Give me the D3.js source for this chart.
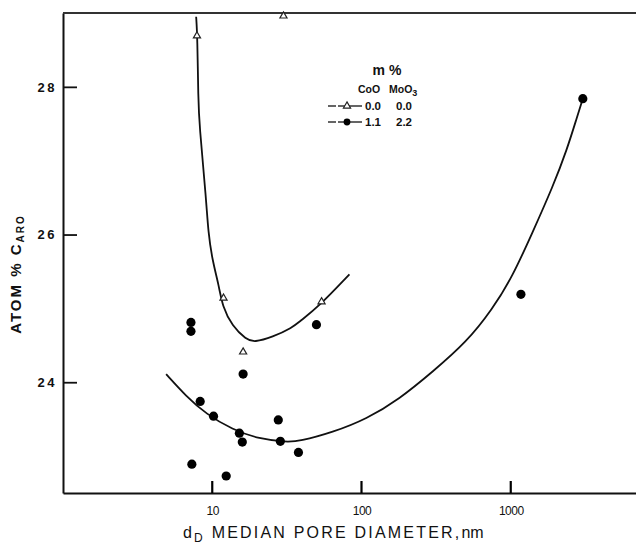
<!DOCTYPE html>
<html>
<head>
<meta charset="utf-8">
<script src="https://cdn.jsdelivr.net/npm/d3@7"></script>
<style>
  html, body { margin: 0; padding: 0; background: #fff; }
  svg { display: block; }
  text { font-family: "Liberation Sans", Arial, sans-serif; fill: #111; }
</style>
</head>
<body>
<svg id="chart" width="636" height="544"></svg>
<script>
// Aromatic carbon content vs. median pore diameter (log scale)
const xTicks = [10, 100, 1000];
const yTicks = [24, 26, 28];

// Support only (CoO 0.0, MoO3 0.0)
const supportX = [7.9, 30, 11.9, 16.1, 54];
const supportY = [28.69, 28.96, 25.14, 24.41, 25.09];

// Catalyst (CoO 1.1, MoO3 2.2)
const catX = [7.2, 7.2, 16.1, 8.3, 10.2, 27.7, 15.2, 15.9, 28.6, 37.8, 7.3, 12.4, 49.9, 1170, 3040];
const catY = [24.81, 24.69, 24.11, 23.74, 23.54, 23.49, 23.31, 23.19, 23.20, 23.05, 22.89, 22.73, 24.78, 25.19, 27.84];

// Hand-fitted trend curves
const supportCurveX = [7.8, 7.95, 8.06, 8.18, 9.11, 9.4, 10.0, 11.1, 11.7, 13.6, 16.9, 19.1, 25.3, 34.4, 38.4, 52.1, 83];
const supportCurveY = [28.95, 28.69, 27.82, 27.51, 26.47, 26.03, 25.66, 25.30, 25.03, 24.76, 24.58, 24.54, 24.61, 24.74, 24.82, 25.03, 25.46];
const catCurveX = [4.91, 6.69, 9.1, 13.6, 20.7, 31.4, 38.4, 63.9, 108, 179, 299, 504, 754, 1027, 1400, 1916, 2380, 2780, 3040];
const catCurveY = [24.11, 23.81, 23.57, 23.36, 23.23, 23.19, 23.20, 23.32, 23.50, 23.77, 24.14, 24.54, 24.99, 25.43, 26.03, 26.65, 27.15, 27.59, 27.84];

const svg = d3.select("#chart");

const x = d3.scaleLog().domain([1, 10000]).range([63, 660]);
const y = d3.scaleLinear().domain([22.5, 29]).range([493, 13]);

// Axes
const xAxis = d3.axisBottom(x).tickValues(xTicks).tickFormat(d3.format("d"))
  .tickSize(0).tickPadding(8);
const gx = svg.append("g").attr("transform", `translate(0,${y(22.5)})`).call(xAxis);
gx.select(".domain").attr("stroke", "#111").attr("stroke-width", 2);
gx.selectAll(".tick line").remove();
gx.selectAll(".tick text").attr("font-size", 12).attr("dy", "1.15em").attr("letter-spacing", "-0.5px");

// Inward tick marks on the bottom axis
svg.append("g").selectAll("line")
  .data(xTicks)
  .join("line")
  .attr("x1", d => x(d)).attr("x2", d => x(d))
  .attr("y1", y(22.5)).attr("y2", y(22.5) - 12)
  .attr("stroke", "#000").attr("stroke-width", 2.2);

const yAxis = d3.axisLeft(y).tickValues(yTicks).tickFormat(d3.format("d"))
  .tickSizeInner(-14).tickSizeOuter(0).tickPadding(6);
const gy = svg.append("g").attr("transform", `translate(${x(1)},0)`).call(yAxis);
gy.select(".domain").attr("stroke", "#111").attr("stroke-width", 2);
gy.selectAll(".tick line").attr("stroke", "#111").attr("stroke-width", 1.8);
gy.selectAll(".tick text").attr("font-size", 13).attr("font-weight", "bold").attr("letter-spacing", "2.5px");

// Top frame line
svg.append("line")
  .attr("x1", x(1)).attr("x2", 636).attr("y1", y(29)).attr("y2", y(29))
  .attr("stroke", "#333").attr("stroke-width", 2);

// Trend curves
const line = d3.line().x(d => x(d[0])).y(d => y(d[1])).curve(d3.curveBasis);
svg.append("path")
  .datum(d3.zip(supportCurveX, supportCurveY))
  .attr("d", line).attr("fill", "none").attr("stroke", "#111").attr("stroke-width", 1.8);
svg.append("path")
  .datum(d3.zip(catCurveX, catCurveY))
  .attr("d", line).attr("fill", "none").attr("stroke", "#111").attr("stroke-width", 1.8);

// Markers
const tri = d3.symbol().type(d3.symbolTriangle).size(22);
svg.append("g").selectAll("path")
  .data(d3.zip(supportX, supportY))
  .join("path")
  .attr("transform", d => `translate(${x(d[0])},${y(d[1])})`)
  .attr("d", tri).attr("fill", "#fff").attr("stroke", "#222").attr("stroke-width", 1.2);

svg.append("g").selectAll("circle")
  .data(d3.zip(catX, catY))
  .join("circle")
  .attr("cx", d => x(d[0])).attr("cy", d => y(d[1])).attr("r", 4.6).attr("fill", "#000");

// Legend
const lg = svg.append("g");
lg.append("text").attr("x", 387).attr("y", 75).attr("text-anchor", "middle")
  .attr("font-size", 14).attr("font-weight", "bold").text("m %");
lg.append("text").attr("x", 358).attr("y", 93).attr("font-size", 10.5).attr("font-weight", "bold").text("CoO");
const mo = lg.append("text").attr("x", 389).attr("y", 93).attr("font-size", 10.5).attr("font-weight", "bold");
mo.append("tspan").text("MoO");
mo.append("tspan").attr("dy", 3).attr("font-size", 9).text("3");

const legendRows = [
  { sym: "tri", co: "0.0", mo: "0.0", yy: 106 },
  { sym: "dot", co: "1.1", mo: "2.2", yy: 122 }
];
legendRows.forEach(r => {
  lg.append("line").attr("x1", 328).attr("x2", 336).attr("y1", r.yy).attr("y2", r.yy)
    .attr("stroke", "#111").attr("stroke-width", 1.3);
  lg.append("line").attr("x1", 338).attr("x2", 362).attr("y1", r.yy).attr("y2", r.yy)
    .attr("stroke", "#111").attr("stroke-width", 1.3);
  if (r.sym === "tri") {
    lg.append("path").attr("transform", `translate(347,${r.yy})`).attr("d", tri)
      .attr("fill", "#fff").attr("stroke", "#222").attr("stroke-width", 1.2);
  } else {
    lg.append("circle").attr("cx", 347).attr("cy", r.yy).attr("r", 3.4).attr("fill", "#000");
  }
  lg.append("text").attr("x", 365).attr("y", r.yy + 4).attr("font-size", 11.5).attr("font-weight", "bold").text(r.co);
  lg.append("text").attr("x", 396).attr("y", r.yy + 4).attr("font-size", 11.5).attr("font-weight", "bold").text(r.mo);
});

// Axis titles
const xt = svg.append("text").attr("x", 183).attr("y", 538).attr("font-size", 16).attr("letter-spacing", "2.2px");
xt.append("tspan").text("d");
xt.append("tspan").attr("dy", 4).attr("font-size", 12).text("D");
xt.append("tspan").attr("dy", -4).text(" MEDIAN  PORE  DIAMETER,");
xt.append("tspan").attr("letter-spacing", "0px").text("nm");

const yt = svg.append("text").attr("transform", "translate(21,274) rotate(-90)")
  .attr("text-anchor", "middle").attr("font-size", 15).attr("font-weight", "bold").attr("letter-spacing", "2px");
yt.append("tspan").text("ATOM % C");
yt.append("tspan").attr("dy", 3).attr("font-size", 10).text("ARO");
</script>
</body>
</html>
